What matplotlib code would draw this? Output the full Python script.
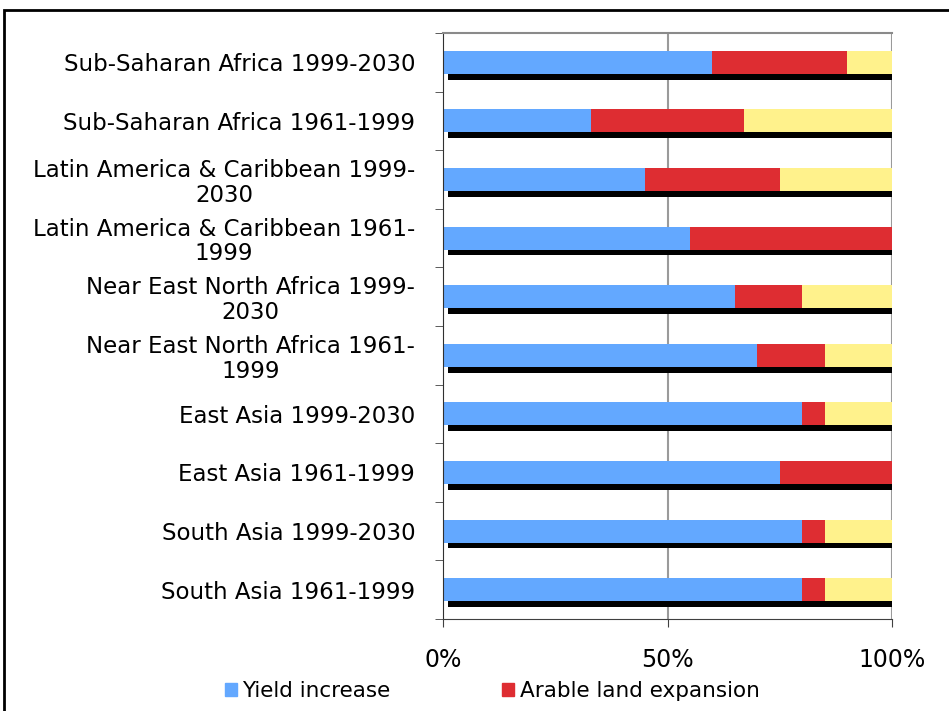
import matplotlib.pyplot as plt
from matplotlib.patches import Rectangle, Patch

regions = [
    "Sub-Saharan Africa 1999-2030",
    "Sub-Saharan Africa 1961-1999",
    "Latin America & Caribbean 1999-\n2030",
    "Latin America & Caribbean 1961-\n1999",
    "Near East North Africa 1999-\n2030",
    "Near East North Africa 1961-\n1999",
    "East Asia 1999-2030",
    "East Asia 1961-1999",
    "South Asia 1999-2030",
    "South Asia 1961-1999",
]
yield_increase = [60, 33, 45, 55, 65, 70, 80, 75, 80, 80]
land_expansion = [30, 34, 30, 45, 15, 15, 5, 25, 5, 5]
cropping_intensity = [10, 33, 25, 0, 20, 15, 15, 0, 15, 15]

fig = plt.figure(figsize=(9.49, 7.11), dpi=100)
ax = fig.add_axes([443 / 949, 1 - 619 / 711, 449 / 949, 586 / 711])

pos = list(range(len(regions)))
h = 0.39
# shadow
ax.barh([p + 0.1 for p in pos], [98.8] * len(pos), left=1.2, height=h, color="black", zorder=1)
ax.barh(pos, yield_increase, height=h, color="#63a8ff", zorder=2, label="Yield increase")
left2 = yield_increase
ax.barh(pos, land_expansion, left=left2, height=h, color="#de2d32", zorder=2,
        label="Arable land expansion")
left3 = [a + b for a, b in zip(yield_increase, land_expansion)]
ax.barh(pos, cropping_intensity, left=left3, height=h, color="#fff28c", zorder=2,
        label="Increased cropping intensity")

ax.set_xlim(0, 100)
ax.set_ylim(len(regions) - 0.5, -0.5)
ax.set_xticks([0, 50, 100])
ax.set_xticklabels(["0%", "50%", "100%"], fontsize=17)
ax.tick_params(axis="x", length=6, pad=15, color="#404040")
ax.set_yticks(pos)
ax.set_yticklabels(regions, fontsize=16.5, multialignment="center", linespacing=1.1)
ax.tick_params(axis="y", length=0, pad=20)
ax.set_yticks([p - 0.5 for p in pos] + [len(pos) - 0.5], minor=True)
ax.tick_params(axis="y", which="minor", length=6, color="#404040")
for x in [50, 100]:
    ax.axvline(x, color="#9a9a9a", lw=1.5, zorder=0)
ax.spines["top"].set_color("#8a8a8a")
ax.spines["top"].set_linewidth(1.5)
ax.spines["right"].set_visible(False)
ax.spines["left"].set_color("#303030")
ax.spines["bottom"].set_color("#404040")

# legend (third entry falls outside the cropped image)
fig.legend(handles=[Patch(color="#63a8ff"), Patch(color="#de2d32")],
           labels=["Yield increase", "Arable land expansion"],
           loc="center left", bbox_to_anchor=(225 / 949, 1 - 691 / 711), ncol=2,
           frameon=False, fontsize=15.5, handlelength=0.55, handleheight=0.55,
           handletextpad=0.25, columnspacing=5.2, borderaxespad=0, borderpad=0)

fig.patches.append(Rectangle((4 / 949, -0.1), 1.2, 1.1 - 10 / 711, transform=fig.transFigure,
                             fill=False, edgecolor="black", lw=2))
fig.savefig("out.png", dpi=100)
